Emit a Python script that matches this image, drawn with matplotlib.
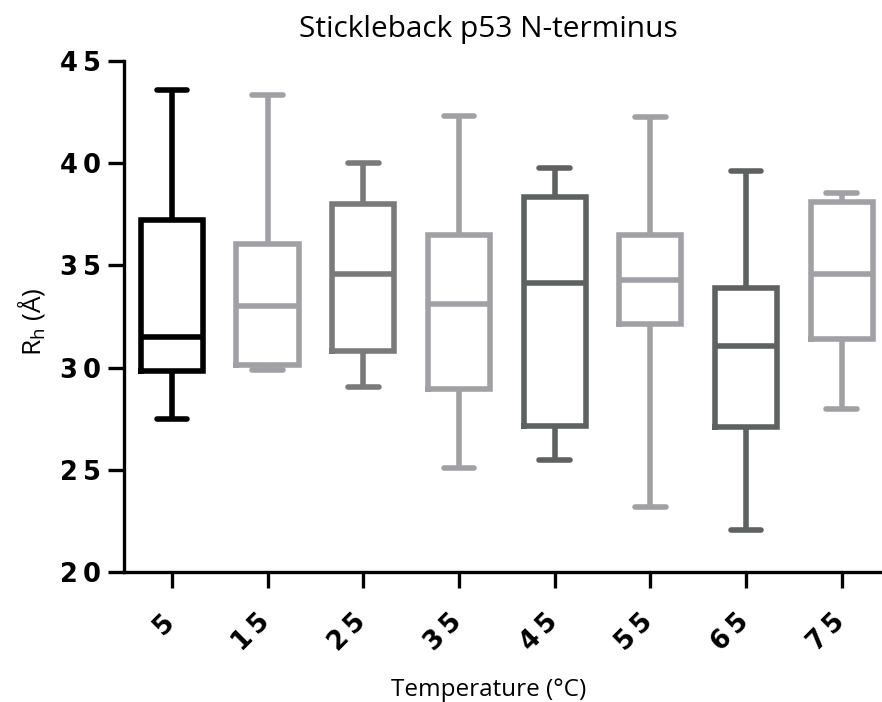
import matplotlib
matplotlib.use("Agg")
import matplotlib.pyplot as plt
from matplotlib.transforms import ScaledTranslation

# Hydrodynamic radius per temperature, summary statistics of each box
temperaturas = [5, 15, 25, 35, 45, 55, 65, 75]
bigote_sup = [43.6, 43.35, 40.0, 42.3, 39.75, 42.27, 39.63, 38.54]
cuartil_sup = [37.2, 36.06, 37.98, 36.5, 38.33, 36.5, 33.89, 38.12]
mediana = [31.5, 32.99, 34.6, 33.13, 34.13, 34.29, 31.08, 34.6]
cuartil_inf = [29.85, 30.15, 30.8, 28.95, 27.12, 32.12, 27.1, 31.42]
bigote_inf = [27.47, 29.9, 29.03, 25.1, 25.48, 23.2, 22.07, 27.97]
colores = ['#000000', '#a1a1a5', '#7a7a7a', '#a1a1a5',
           '#5f6060', '#a1a1a5', '#5f6060', '#a1a1a5']

y_ticks = [20, 25, 30, 35, 40, 45]

fuente_ejes = ['DejaVu Sans']
fuente_texto = ['Open Sans', 'DejaVu Sans']


def espaciar(texto):
    # Spread digits apart like the original axis labels
    return '\u2009'.join(str(texto))


fig = plt.figure(figsize=(8.82, 7.02), dpi=100)
ax = fig.add_axes([0.1406, 0.1852, 0.8594, 0.7279])

stats = []
for i in range(len(temperaturas)):
    stats.append({
        'med': mediana[i], 'q1': cuartil_inf[i], 'q3': cuartil_sup[i],
        'whislo': bigote_inf[i], 'whishi': bigote_sup[i], 'fliers': [],
    })

posiciones = list(range(len(temperaturas)))
lw = 4.0
res = ax.bxp(stats, positions=posiciones, widths=0.65, showfliers=False,
             capwidths=0.32)

for i, c in enumerate(colores):
    res['boxes'][i].set(color=c, linewidth=lw, solid_joinstyle='miter')
    res['medians'][i].set(color=c, linewidth=lw, solid_capstyle='butt')
    for k in (2 * i, 2 * i + 1):
        res['whiskers'][k].set(color=c, linewidth=lw, solid_capstyle='butt')
        res['caps'][k].set(color=c, linewidth=lw, solid_capstyle='round')

ax.set_xlim(-0.5, 7.42)
ax.set_ylim(20, 45)

for lado in ('top', 'right'):
    ax.spines[lado].set_visible(False)
for lado in ('left', 'bottom'):
    ax.spines[lado].set_linewidth(2.4)
    ax.spines[lado].set_capstyle('projecting')

ax.set_yticks(y_ticks)
ax.set_yticklabels([espaciar(v) for v in y_ticks], fontfamily=fuente_ejes,
                   fontweight='bold', fontsize=18.5)
ax.set_xticks(posiciones)
ax.set_xticklabels([espaciar(t) for t in temperaturas], fontfamily=fuente_ejes,
                   fontweight='bold', fontsize=18.5, rotation=45, ha='right')
ax.tick_params(axis='both', length=11.5, width=2.4, colors='black')
ax.tick_params(axis='y', pad=5)
ax.tick_params(axis='x', pad=15)

# shift the rotated temperature labels a little to the right
desplazamiento = ScaledTranslation(8 / 100, 0, fig.dpi_scale_trans)
for etiqueta in ax.get_xticklabels():
    etiqueta.set_transform(etiqueta.get_transform() + desplazamiento)

fig.text(0.554, 1 - 37 / 702, 'Stickleback p53 N-terminus', ha='center',
         va='baseline', fontsize=21.5, fontfamily=fuente_texto)
fig.text(0.036, 1 - 322 / 702, r'R$_\mathregular{h}$ (Å)', ha='center',
         va='center', rotation=90, fontsize=19, fontfamily=fuente_texto)
fig.text(0.554, 1 - 696 / 702, 'Temperature (°C)', ha='center',
         va='baseline', fontsize=17.5, fontfamily=fuente_texto)

fig.savefig('out.png', dpi=100)
